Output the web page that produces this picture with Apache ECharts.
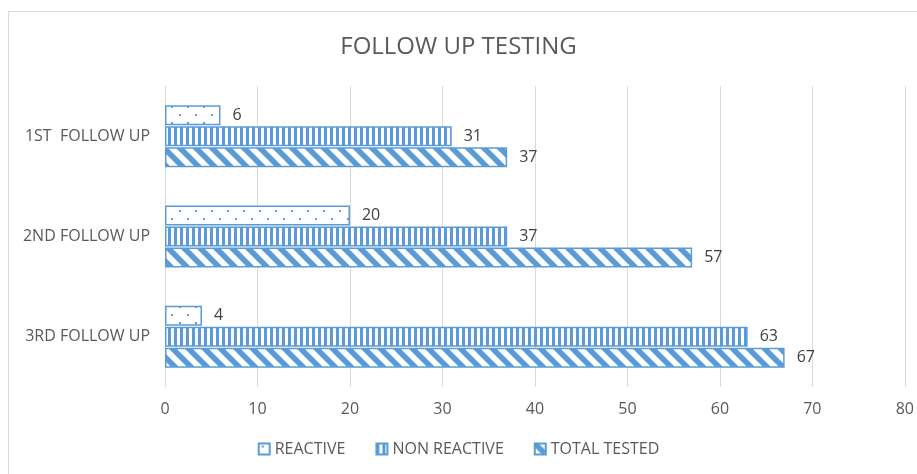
<!DOCTYPE html>
<html>
<head>
<meta charset="utf-8">
<script src="https://cdn.jsdelivr.net/npm/echarts@6/dist/echarts.min.js"></script>
<style>
  html, body { margin: 0; padding: 0; background: #fff; }
  #wrap { position: relative; width: 917px; height: 474px; overflow: hidden; }
  #frame { position: absolute; left: 8px; top: 11px; width: 930px; height: 480px; border: 1px solid #d9d9d9; box-sizing: border-box; }
  #chart { position: absolute; left: 0; top: 0; width: 917px; height: 474px; }
</style>
</head>
<body>
<div id="wrap">
  <div id="frame"></div>
  <div id="chart"></div>
</div>
<script>
// data
const categories = ["1ST  FOLLOW UP", "2ND FOLLOW UP", "3RD FOLLOW UP"];
const reactive = [6, 20, 4];
const nonReactive = [31, 37, 63];
const totalTested = [37, 57, 67];
const xTicks = [0, 10, 20, 30, 40, 50, 60, 70, 80];

const BLUE = "#5b9bd5";
const FONT = "'Open Sans', 'Noto Sans', sans-serif";

// pattern tiles
function makeTile(size, draw) {
  const c = document.createElement("canvas");
  c.width = size;
  c.height = size;
  const ctx = c.getContext("2d");
  ctx.fillStyle = "#fff";
  ctx.fillRect(0, 0, size, size);
  ctx.fillStyle = BLUE;
  ctx.strokeStyle = BLUE;
  draw(ctx);
  return { image: c, repeat: "repeat" };
}

const dots = makeTile(16, (ctx) => {
  ctx.fillRect(3, 2, 2, 2);
  ctx.fillRect(11, 10, 2, 2);
});
const vStripes = makeTile(6, (ctx) => {
  ctx.fillRect(0, 0, 3, 6);
});
const diag = makeTile(16, (ctx) => {
  ctx.lineWidth = 5.5;
  for (let k = -16; k <= 16; k += 16) {
    ctx.beginPath();
    ctx.moveTo(k - 2, -2);
    ctx.lineTo(k + 18, 18);
    ctx.stroke();
  }
});

function barSeries(name, data, pattern) {
  return {
    name: name,
    type: "bar",
    data: data,
    barWidth: 20,
    barGap: "5%",
    itemStyle: { color: pattern, borderColor: BLUE, borderWidth: 1.5 },
    label: {
      show: true,
      position: "right",
      distance: 12,
      color: "#404040",
      fontSize: 16,
      fontFamily: FONT
    }
  };
}

const option = {
  backgroundColor: "transparent",
  animation: false,
  title: {
    text: "FOLLOW UP TESTING",
    left: "center",
    top: 30,
    textStyle: { color: "#595959", fontSize: 24, fontWeight: "normal", fontFamily: FONT }
  },
  legend: {
    bottom: 12,
    left: "center",
    itemWidth: 11,
    itemHeight: 11,
    itemGap: 30,
    icon: "rect",
    textStyle: { color: "#595959", fontSize: 16, fontFamily: FONT },
    data: ["REACTIVE", "NON REACTIVE", "TOTAL TESTED"]
  },
  grid: { left: 165, right: 11, top: 86, bottom: 87, containLabel: false },
  xAxis: {
    type: "value",
    min: xTicks[0],
    max: xTicks[xTicks.length - 1],
    interval: 10,
    axisLine: { show: false },
    axisTick: { show: false },
    splitLine: { lineStyle: { color: "#d9d9d9", width: 1 } },
    axisLabel: { color: "#595959", fontSize: 16, fontFamily: FONT, margin: 14 }
  },
  yAxis: {
    type: "category",
    inverse: true,
    data: categories,
    axisLine: { lineStyle: { color: "#d9d9d9", width: 1 } },
    axisTick: { show: false },
    axisLabel: { color: "#595959", fontSize: 16, fontFamily: FONT, margin: 15 }
  },
  series: [
    barSeries("REACTIVE", reactive, dots),
    barSeries("NON REACTIVE", nonReactive, vStripes),
    barSeries("TOTAL TESTED", totalTested, diag)
  ]
};

const myChart = echarts.init(document.getElementById("chart"), null, { renderer: "canvas" });
myChart.setOption(option);
</script>
</body>
</html>
